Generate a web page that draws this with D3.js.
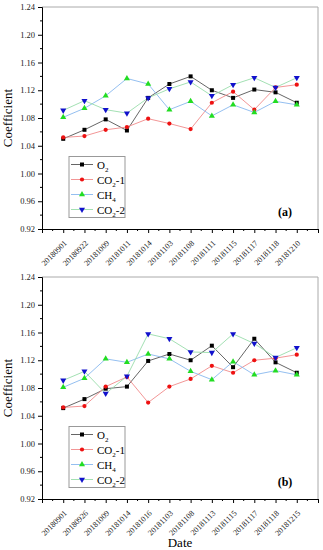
<!DOCTYPE html>
<html>
<head>
<meta charset="utf-8">
<script src="https://cdn.jsdelivr.net/npm/d3@7"></script>
<style>
  body { margin: 0; background: #fff; }
  svg { display: block; font-family: "Liberation Serif", "DejaVu Serif", serif; }
</style>
</head>
<body>
<div id="chart"></div>
<script>
// dates on the x axis of each panel
var datesA = ["20180901", "20180922", "20181009", "20181011", "20181014", "20181103",
  "20181108", "20181111", "20181115", "20181117", "20181118", "20181210"];
var datesB = ["20180901", "20180926", "20181009", "20181014", "20181016", "20181103",
  "20181108", "20181113", "20181115", "20181117", "20181118", "20181215"];

// panel (a)
var o2A   = [1.050, 1.063, 1.078, 1.062, 1.109, 1.129, 1.140, 1.120, 1.109, 1.121, 1.117, 1.102];
var co21A = [1.052, 1.054, 1.063, 1.067, 1.079, 1.072, 1.064, 1.102, 1.118, 1.092, 1.124, 1.128];
var ch4A  = [1.081, 1.094, 1.112, 1.137, 1.129, 1.092, 1.104, 1.083, 1.099, 1.088, 1.104, 1.099];
var co22A = [1.091, 1.105, 1.092, 1.087, 1.109, 1.122, 1.132, 1.112, 1.128, 1.138, 1.124, 1.138];

// panel (b)
var o2B   = [1.051, 1.064, 1.079, 1.082, 1.119, 1.129, 1.120, 1.141, 1.110, 1.151, 1.117, 1.102];
var co21B = [1.052, 1.054, 1.082, 1.096, 1.059, 1.082, 1.093, 1.112, 1.102, 1.120, 1.123, 1.128];
var ch4B  = [1.081, 1.094, 1.122, 1.117, 1.129, 1.122, 1.104, 1.092, 1.118, 1.099, 1.105, 1.099];
var co22B = [1.091, 1.104, 1.072, 1.097, 1.158, 1.151, 1.132, 1.131, 1.158, 1.144, 1.124, 1.138];

var yTicks = [0.92, 0.96, 1.00, 1.04, 1.08, 1.12, 1.16, 1.20, 1.24];

var seriesInfo = [
  { name: "O", sub: "2", tail: "",   marker: "square",   fill: "#000000", line: "#555555" },
  { name: "CO", sub: "2", tail: "-1", marker: "circle",  fill: "#ee1111", line: "#f08a8a" },
  { name: "CH", sub: "4", tail: "",   marker: "triUp",   fill: "#22dd22", line: "#88b8ee" },
  { name: "CO", sub: "2", tail: "-2", marker: "triDown", fill: "#1111cc", line: "#99dcaa" }
];

var width = 323, height = 550;
var left = 42, right = 318;
var serif = "'Liberation Serif', 'DejaVu Serif', serif";

var svg = d3.select("#chart").append("svg")
  .attr("width", width).attr("height", height);

var panels = [
  { top: 7,   bottom: 229, dates: datesA, values: [o2A, co21A, ch4A, co22A], tag: "(a)", xTitle: false },
  { top: 277, bottom: 499, dates: datesB, values: [o2B, co21B, ch4B, co22B], tag: "(b)", xTitle: true }
];

var symbols = {
  square: d3.symbol().type(d3.symbolSquare).size(16),
  circle: d3.symbol().type(d3.symbolCircle).size(14),
  triUp: d3.symbol().type(d3.symbolTriangle).size(16)
};

function drawMarker(g, kind, x, y, color) {
  if (kind == "triDown") {
    g.append("path")
      .attr("d", symbols.triUp())
      .attr("transform", "translate(" + x + "," + y + ") rotate(180)")
      .attr("fill", color);
  } else {
    g.append("path")
      .attr("d", symbols[kind]())
      .attr("transform", "translate(" + x + "," + y + ")")
      .attr("fill", color);
  }
}

panels.forEach(function (p) {
  var x = d3.scaleLinear().domain([0, p.dates.length + 1]).range([left, right]);
  var y = d3.scaleLinear().domain([0.92, 1.24]).range([p.bottom, p.top]);
  var g = svg.append("g");

  // frame top / right
  g.append("path")
    .attr("d", "M" + left + "," + p.top + "H" + right + "V" + p.bottom)
    .attr("fill", "none").attr("stroke", "#aaaaaa").attr("stroke-width", 1);

  // y axis
  var yAxis = d3.axisLeft(y).tickValues(yTicks).tickFormat(d3.format(".2f")).tickSize(4);
  var ya = g.append("g").attr("transform", "translate(" + left + ",0)").call(yAxis)
    .attr("font-family", serif);
  ya.select(".domain").attr("stroke", "#000");
  ya.selectAll("text").style("font-size", "8.5px").attr("fill", "#222");
  var yMinor = d3.range(0.94, 1.24, 0.04);
  g.selectAll(".ymin").data(yMinor).enter().append("line")
    .attr("x1", left).attr("x2", left - 2)
    .attr("y1", function (d) { return y(d); }).attr("y2", function (d) { return y(d); })
    .attr("stroke", "#000");

  // x axis
  var xAxis = d3.axisBottom(x).tickValues(d3.range(0, p.dates.length + 2))
    .tickFormat(function (d) { return p.dates[d - 1] || ""; }).tickSize(4);
  var xa = g.append("g").attr("transform", "translate(0," + p.bottom + ")").call(xAxis)
    .attr("font-family", serif);
  xa.select(".domain").attr("stroke", "#000");
  xa.selectAll("text")
    .style("font-size", "8px").attr("fill", "#222")
    .style("text-anchor", "end")
    .attr("dy", "0.3em")
    .attr("transform", "translate(-3,8) rotate(-45)");
  var xMinor = d3.range(0.5, p.dates.length + 1, 1);
  g.selectAll(".xmin").data(xMinor).enter().append("line")
    .attr("x1", function (d) { return x(d); }).attr("x2", function (d) { return x(d); })
    .attr("y1", p.bottom).attr("y2", p.bottom + 2)
    .attr("stroke", "#000");

  // y title
  g.append("text")
    .attr("transform", "translate(12," + ((p.top + p.bottom) / 2) + ") rotate(-90)")
    .attr("text-anchor", "middle")
    .style("font-size", "13px")
    .text("Coefficient");

  // lines, drawn before markers
  var line = d3.line()
    .x(function (d, i) { return x(i + 1); })
    .y(function (d) { return y(d); });
  p.values.forEach(function (vals, s) {
    g.append("path").datum(vals)
      .attr("d", line)
      .attr("fill", "none")
      .attr("stroke", seriesInfo[s].line)
      .attr("stroke-width", 0.9);
  });
  p.values.forEach(function (vals, s) {
    vals.forEach(function (v, i) {
      drawMarker(g, seriesInfo[s].marker, x(i + 1), y(v), seriesInfo[s].fill);
    });
  });

  // legend
  var lx = 69, ly = y(1.0) - 17;
  var lg = g.append("g").attr("transform", "translate(" + lx + "," + ly + ")");
  lg.append("rect").attr("width", 56).attr("height", 61)
    .attr("fill", "#fff").attr("stroke", "#999").attr("stroke-width", 1);
  seriesInfo.forEach(function (s, i) {
    var yy = 8 + i * 15;
    lg.append("line").attr("x1", 2).attr("x2", 24).attr("y1", yy).attr("y2", yy)
      .attr("stroke", s.line).attr("stroke-width", 0.9);
    drawMarker(lg, s.marker, 13, yy, s.fill);
    var t = lg.append("text").attr("x", 28).attr("y", yy + 4).style("font-size", "11px");
    t.append("tspan").text(s.name);
    t.append("tspan").text(s.sub).style("font-size", "7px").attr("dy", 3);
    t.append("tspan").text(s.tail).attr("dy", -3);
  });

  // panel tag
  g.append("text")
    .attr("x", 285).attr("y", y(0.96) + 15)
    .attr("text-anchor", "middle")
    .style("font-size", "12px").style("font-weight", "bold")
    .text(p.tag);

  if (p.xTitle) {
    g.append("text")
      .attr("x", (left + right) / 2).attr("y", 547)
      .attr("text-anchor", "middle")
      .style("font-size", "13px")
      .text("Date");
  }
});
</script>
</body>
</html>
